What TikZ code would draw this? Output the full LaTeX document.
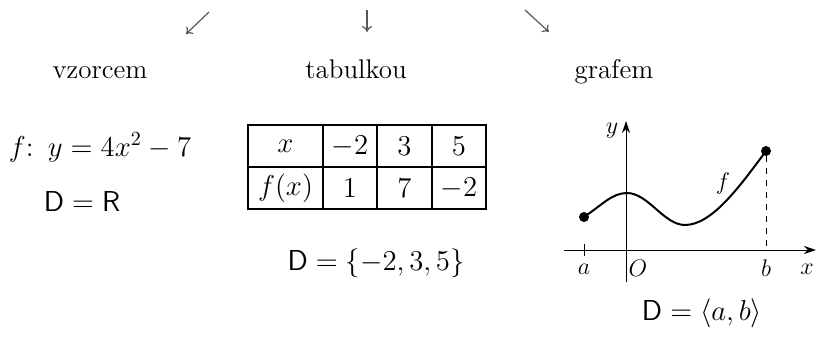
\documentclass[tikz,border=0pt]{standalone}
\usepackage{tikz}
\usetikzlibrary{arrows.meta}

\begin{document}
\begin{tikzpicture}[x=0.5pt, y=-0.5pt,
    txt/.style={font=\fontsize{13.5}{16}\selectfont, inner sep=0pt, anchor=base},
    mat/.style={font=\fontsize{14.5}{17}\selectfont, inner sep=0pt, anchor=base},
    cell/.style={font=\fontsize{14}{17}\selectfont, inner sep=0pt},
    popis/.style={font=\fontsize{12}{14}\selectfont, inner sep=0pt},
    osa/.style={line width=0.5pt, -{Stealth[length=6pt, width=4pt]}},
    sipka/.style={black!65, line width=0.6pt, -{To[length=3pt, width=5pt]}},
    bod/.style={circle, fill, inner sep=0pt, minimum size=5pt}
]
\useasboundingbox (0,0) rectangle (817,338);

% Sipky nahore
\coordinate (s1) at (209,12); \coordinate (c1) at (186,34);
\coordinate (s2) at (367,10); \coordinate (c2) at (367,32);
\coordinate (s3) at (525,10); \coordinate (c3) at (549,32);
\draw[sipka] (s1) -- (c1);
\draw[sipka] (s2) -- (c2);
\draw[sipka] (s3) -- (c3);

\node[txt] (vzorcem) at (100,78) {vzorcem};
\node[txt] (tabulkou) at (356,78) {tabulkou};
\node[txt] (grafem) at (614,78) {grafem};

% Vzorec
\node[mat] (vzorec) at (100,156) {$f\colon\ y=4x^2-7$};
\node[mat] (dr) at (82,211) {$\mathsf{D}=\mathsf{R}$};

% Tabulka
\draw[line width=0.8pt] (248,125) rectangle (486,209);
\draw[line width=0.8pt] (248,167) -- (486,167);
\foreach \xx in {323,377,432}
  \draw[line width=0.8pt] (\xx,125) -- (\xx,209);
\node[cell] (hx) at (285.5,146) {$x$};
\node[cell] (x1) at (350,146) {$-2$};
\node[cell] (x2) at (404.5,146) {$3$};
\node[cell] (x3) at (459,146) {$5$};
\node[cell] (hf) at (285.5,188) {$f(x)$};
\node[cell] (y1) at (350,188) {$1$};
\node[cell] (y2) at (404.5,188) {$7$};
\node[cell] (y3) at (459,188) {$-2$};
\node[mat] (dm) at (376,270) {$\mathsf{D}=\{-2,3,5\}$};

% Graf
\coordinate (xl) at (564,250); \coordinate (xr) at (816,250);
\coordinate (yd) at (626,282); \coordinate (yu) at (626,121);
\draw[osa] (xl) -- (xr);
\draw[osa] (yd) -- (yu);
\node[bod] (A) at (584,217) {};
\node[bod] (B) at (766,151) {};
\coordinate (a) at (584,250); \coordinate (b) at (766,252);
\draw[line width=0.5pt] (584,244) -- (584,256);
\draw[line width=0.5pt, dashed] (B) -- (b);
\draw[line width=1pt] (A.center) .. controls (602,205) and (612,193) .. (627,193)
  .. controls (648,193) and (664,225) .. (685,225)
  .. controls (712,225) and (740,186) .. (B.center);
\node[popis] (ly) at (612,131) {$y$};
\node[popis] (lf) at (723,183) {$f$};
\node[popis] (la) at (584,269) {$a$};
\node[popis] (lo) at (638,268) {$O$};
\node[popis] (lb) at (766,268) {$b$};
\node[popis] (lx) at (807,269) {$x$};
\node[mat] (dg) at (702,320) {$\mathsf{D}=\langle a,b\rangle$};
\end{tikzpicture}
\end{document}
